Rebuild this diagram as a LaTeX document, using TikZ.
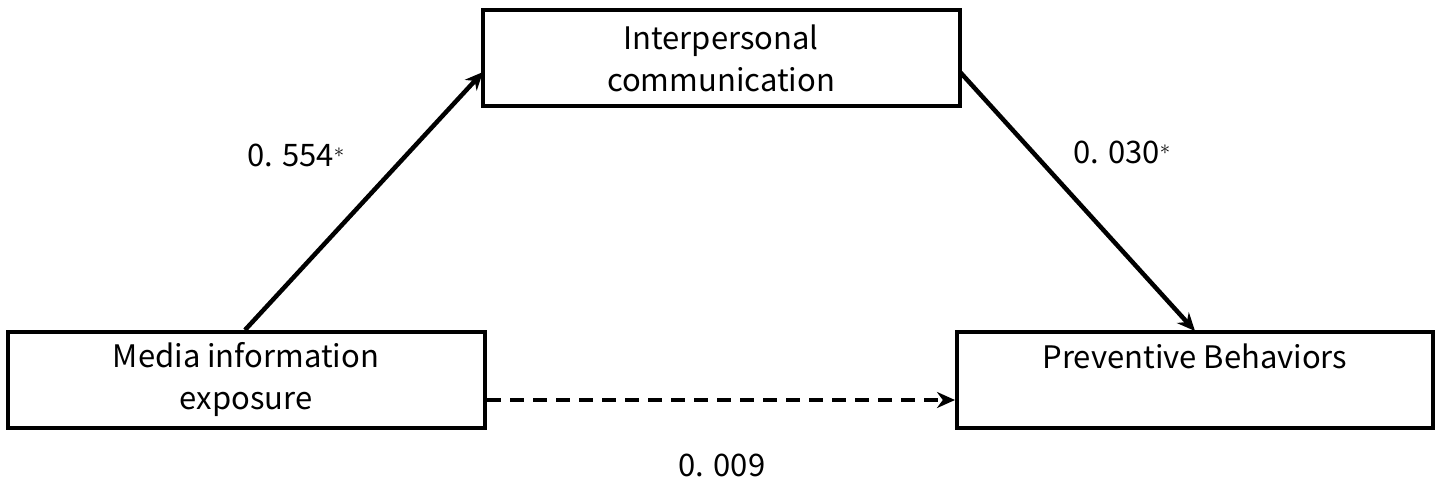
\documentclass[tikz,border=0pt]{standalone}
\usepackage{fontspec}
\setmainfont{Noto Sans CJK JP}
\usetikzlibrary{arrows.meta}
\begin{document}
\begin{tikzpicture}[x=1pt,y=-1pt,
  box/.style={draw,line width=4.5pt},
  conn/.style={line width=4.5pt,-{Stealth[length=18pt,width=16pt]}},
  lbl/.style={font=\fontsize{31}{36}\selectfont},
  txt/.style={align=center,font=\fontsize{31}{42}\selectfont}]
\useasboundingbox (0,0) rectangle (1441,484);
\draw[box] (483,10) rectangle (960,106);
\draw[box] (8,332) rectangle (485,428);
\draw[box] (957,332) rectangle (1433,428);
\node[txt] (ic) at (721,58) {Interpersonal\\communication};
\node[txt] (me) at (246,380) {Media information\\exposure};
\node[txt] (pb) at (1195,356) {Preventive Behaviors};
\coordinate (a1) at (245,330);
\coordinate (a2) at (483,72);
\coordinate (b1) at (960,72);
\coordinate (b2) at (1195,331);
\coordinate (c1) at (487,400);
\coordinate (c2) at (955,400);
\draw[conn] (a1) -- (a2);
\draw[conn] (b1) -- (b2);
\draw[conn,dash pattern=on 14pt off 9pt] (c1) -- (c2);
\node[lbl] (l1) at (296,155) {0. 554$^*$};
\node[lbl] (l2) at (1122,152) {0. 030$^*$};
\node[lbl] (l3) at (722,465) {0. 009};
\end{tikzpicture}
\end{document}
